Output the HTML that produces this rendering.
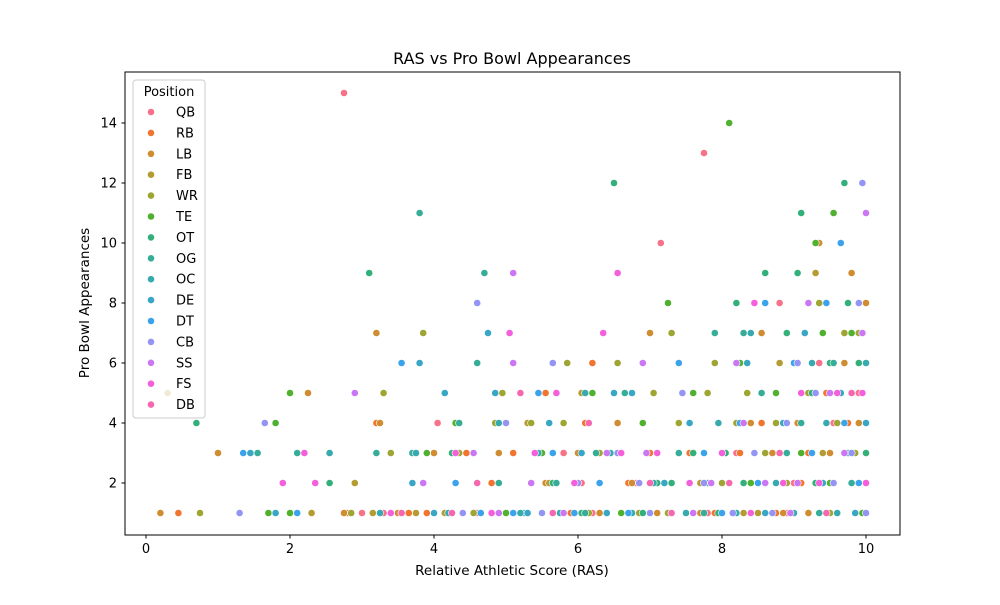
<!DOCTYPE html>
<html><head><meta charset="utf-8"><style>
body{margin:0;background:#fff;}
svg text{font-family:"DejaVu Sans","Liberation Sans",sans-serif;fill:#000;}
</style></head><body>
<svg id="chart" width="1000" height="600" xmlns="http://www.w3.org/2000/svg">
<rect width="1000" height="600" fill="#fff"/>
<g id="marks"></g>
<rect x="125" y="72" width="775" height="463" fill="none" stroke="#000" stroke-width="1"/>
<g id="xticks"></g>
<g id="yticks"></g>
<text x="512" y="64" font-size="16" text-anchor="middle">RAS vs Pro Bowl Appearances</text>
<text x="512" y="575" font-size="13.5" text-anchor="middle">Relative Athletic Score (RAS)</text>
<text x="89" y="303" font-size="13.5" text-anchor="middle" transform="rotate(-90 89 303)">Pro Bowl Appearances</text>
<g id="legend"></g>
</svg>
<script>
const positions=["QB","RB","LB","FB","WR","TE","OT","OG","OC","DE","DT","CB","SS","FS","DB"];
const colors=["#f77189","#f2752f","#d08c30","#b49c32","#9ea532","#50b131","#33b07a","#35ad99","#36aaae","#38a7c6","#3ba3ec","#9394f4","#cb77f4","#f460dc","#f667b0"];
const xTicks=[0,2,4,6,8,10];
const yTicks=[2,4,6,8,10,12,14];
const QB=[[2.75,15],[7.75,13],[7.15,10],[8.8,8],[4.05,4],[9.35,6],[9.9,5],[8.2,3],[6.2,1],[3.3,1],[5.3,1],[7.6,1],[9.0,2],[6.05,2],[9.55,4],[4.6,1],[2.0,1],[6.8,2],[8.9,1],[5.8,3],[9.7,7],[4.3,3],[7.8,1],[3.0,1]];
const RB=[[0.45,1],[6.2,6],[5.55,5],[2.55,3],[9.3,10],[4.45,3],[4.8,2],[5.1,3],[3.2,4],[2.8,1],[3.65,1],[6.1,4],[6.7,2],[7.25,1],[7.55,3],[7.9,1],[8.25,3],[8.55,4],[8.75,1],[9.2,3],[9.45,5],[9.75,4],[10,3],[9.6,1],[5.9,1],[4.4,1],[3.9,1],[8.5,2],[9.1,2],[7.0,3]];
const LB=[[0.2,1],[1.0,3],[2.25,5],[3.2,7],[3.25,4],[7.0,7],[9.8,9],[10,8],[6.55,4],[2.75,1],[3.5,1],[4.0,3],[4.9,3],[5.0,1],[5.55,2],[6.0,3],[6.3,1],[6.75,2],[7.1,1],[7.7,1],[8.05,3],[8.4,4],[8.55,7],[8.85,1],[9.2,1],[9.35,10],[9.5,3],[9.7,6],[9.9,4],[10,2],[9.05,4],[8.7,3]];
const FB=[[0.3,5],[2.9,2],[4.15,1],[2.3,1],[3.15,1],[4.3,4],[4.9,1],[5.6,2],[6.4,1],[6.9,1],[7.4,3],[7.7,2],[8.0,1],[8.5,1],[8.8,6],[9.3,9],[9.6,1],[9.9,2],[3.75,1],[5.3,4],[6.05,5],[7.0,1],[8.3,1],[9.4,3]];
const WR=[[0.75,1],[3.85,7],[3.3,5],[5.85,6],[2.85,1],[3.4,3],[4.35,3],[4.85,4],[4.95,5],[5.35,4],[5.8,4],[6.3,3],[6.55,6],[6.85,1],[7.05,5],[7.3,7],[7.4,4],[7.5,1],[7.8,5],[7.9,6],[8.0,2],[8.2,4],[8.35,5],[8.6,3],[8.75,4],[9.0,1],[9.2,5],[9.35,8],[9.5,1],[9.7,7],[9.9,7],[10,1],[9.85,3],[6.15,1],[5.0,1],[4.55,1],[7.25,1],[8.9,2],[9.6,4]];
const TE=[[8.1,14],[9.55,11],[9.3,10],[7.25,8],[2.0,5],[1.8,4],[1.7,1],[2.0,1],[4.3,4],[5.0,1],[5.5,3],[6.2,5],[6.9,4],[7.6,5],[8.25,6],[8.4,2],[8.75,5],[9.1,3],[9.4,7],[9.8,7],[9.5,2],[9.95,1],[6.6,1],[7.95,4],[3.9,3]];
const OT=[[6.5,12],[9.7,12],[9.1,11],[8.2,8],[9.05,9],[3.1,9],[0.7,4],[2.55,2],[4.25,3],[5.2,1],[5.65,2],[6.05,1],[6.3,2],[6.9,1],[7.3,2],[7.6,3],[7.95,1],[8.3,2],[8.6,9],[8.9,7],[9.25,5],[9.5,6],[9.75,8],[9.9,6],[10,3],[9.3,2],[8.05,3],[7.1,2]];
const OG=[[3.8,11],[4.7,9],[4.6,6],[3.2,3],[2.1,3],[1.55,3],[4.35,4],[5.25,1],[5.7,2],[6.25,3],[6.65,5],[7.4,3],[7.9,7],[8.3,7],[8.55,5],[8.9,3],[9.1,4],[9.35,1],[9.55,6],[9.8,2],[3.7,3],[4.9,2],[6.1,1],[7.75,1]];
const OC=[[2.55,3],[3.25,1],[3.75,3],[4.2,1],[4.9,4],[5.45,3],[5.75,1],[6.1,5],[6.45,3],[6.75,1],[7.05,2],[7.5,1],[7.95,4],[8.4,7],[8.75,2],[9.0,1],[9.25,6],[9.45,4],[9.75,3],[10,6],[9.6,1],[8.2,1],[5.2,1]];
const DE=[[4.75,7],[3.8,6],[1.8,1],[1.45,3],[3.7,2],[4.15,5],[4.85,5],[5.3,1],[5.6,4],[6.05,3],[6.5,5],[6.75,5],[7.2,2],[7.55,4],[8.0,3],[8.35,6],[8.6,1],[8.85,4],[9.15,7],[9.4,2],[9.65,5],[9.85,1],[10,4],[4.0,1],[6.4,1],[7.8,2]];
const DT=[[9.65,10],[8.6,8],[3.55,6],[2.1,1],[1.35,3],[3.55,1],[4.3,2],[4.65,1],[5.45,5],[5.65,3],[5.95,1],[6.3,2],[6.7,1],[7.4,6],[7.75,3],[8.0,1],[8.25,4],[8.5,2],[9.0,6],[9.25,3],[9.45,8],[9.7,4],[9.9,2],[5.1,1]];
const CB=[[9.95,12],[4.6,8],[1.65,4],[1.3,1],[5.65,6],[9.9,8],[3.85,2],[4.4,1],[5.0,4],[5.5,1],[6.0,2],[6.55,3],[7.0,1],[7.45,5],[7.75,2],[8.15,1],[8.45,3],[8.7,1],[9.05,6],[9.3,5],[9.55,2],[9.8,3],[10,1],[6.85,2],[8.9,4]];
const SS=[[5.1,9],[10,11],[5.1,6],[6.9,6],[8.2,6],[2.9,5],[3.85,2],[4.55,3],[4.9,1],[5.35,2],[5.8,1],[6.4,3],[6.95,3],[7.3,1],[7.85,2],[8.3,4],[8.6,2],[8.95,1],[9.2,8],[9.5,5],[9.7,3],[9.95,7],[7.6,1],[9.05,2]];
const FS=[[6.55,9],[6.35,7],[5.05,7],[8.45,8],[1.9,2],[2.2,3],[2.35,2],[3.4,1],[4.3,3],[4.8,1],[5.4,3],[5.95,2],[6.6,3],[7.1,3],[7.55,2],[8.0,3],[8.4,1],[8.85,2],[9.1,5],[9.35,2],[9.6,5],[9.95,5],[10,2],[5.7,5]];
const DB=[[4.6,2],[5.2,5],[5.65,1],[6.15,4],[7.3,1],[8.1,2],[8.8,3],[9.45,1],[9.8,5],[4.25,1],[3.55,1],[7.0,2]];
const series=[QB,RB,LB,FB,WR,TE,OT,OG,OC,DE,DT,CB,SS,FS,DB];

const NS="http://www.w3.org/2000/svg";
function xs(v){return 146+v*72;}
function ys(v){return 543-v*30;}
function mk(tag,attrs,parent){const e=document.createElementNS(NS,tag);for(const k in attrs)e.setAttribute(k,attrs[k]);parent.appendChild(e);return e;}

const marks=document.getElementById('marks');
series.forEach((pts,si)=>{pts.forEach(p=>{
  const c=mk('circle',{cx:xs(p[0]),cy:ys(p[1]),r:3.6,fill:colors[si],stroke:'#fff','stroke-width':0.6},marks);
  
  
});});

const xg=document.getElementById('xticks');
xTicks.forEach(t=>{
  const l=mk('line',{x1:xs(t),x2:xs(t),y1:535,y2:538.5,stroke:'#000'},xg);
  
  
  const tx=mk('text',{x:xs(t),y:553,'font-size':13,'text-anchor':'middle'},xg);
  tx.textContent=t;
  
  
});
const yg=document.getElementById('yticks');
yTicks.forEach(t=>{
  const l=mk('line',{x1:121.5,x2:125,y1:ys(t),y2:ys(t),stroke:'#000'},yg);
  
  
  const tx=mk('text',{x:117,y:ys(t)+4.5,'font-size':13,'text-anchor':'end'},yg);
  tx.textContent=t;
  
  
});

const lg=document.getElementById('legend');
const box=mk('rect',{x:133,y:80,width:72,height:338,rx:3,fill:'#fff','fill-opacity':0.8,stroke:'#ccc'},lg);


const lt=mk('text',{x:169,y:96,'font-size':13,'text-anchor':'middle'},lg);
lt.textContent='Position';


positions.forEach((p,i)=>{
  const y=112+i*20.9;
  const g=mk('g',{},lg);
  
  
  mk('circle',{cx:151,cy:y,r:3.6,fill:colors[i],stroke:'#fff','stroke-width':0.6},g);
  const t=mk('text',{x:176,y:y+4.5,'font-size':13},g);
  t.textContent=p;
});
</script>
</body></html>
